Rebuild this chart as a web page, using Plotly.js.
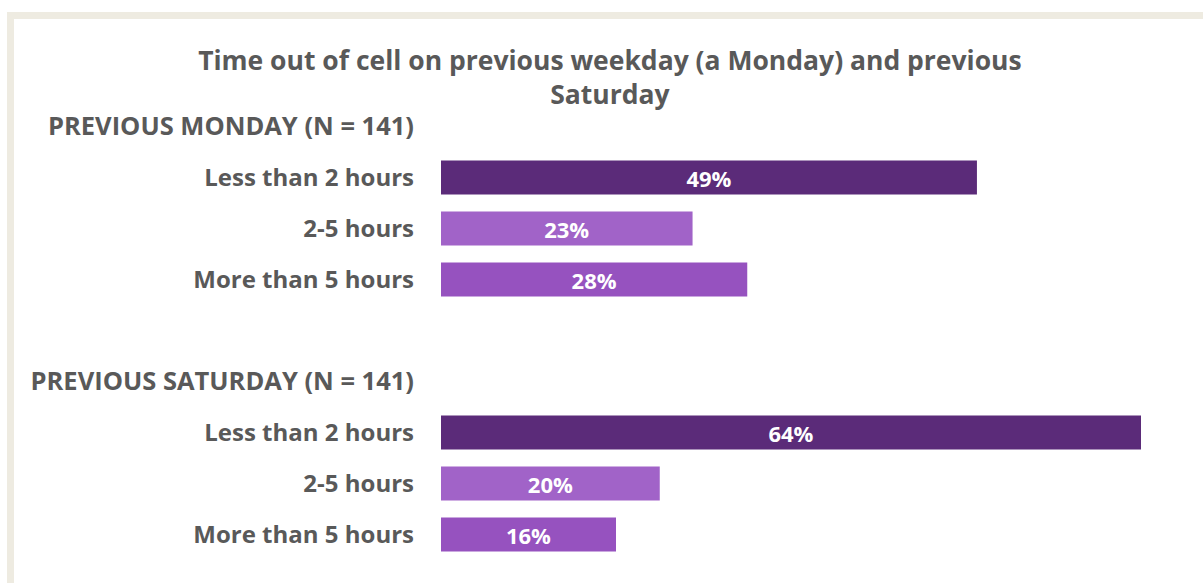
<!DOCTYPE html>
<html>
<head>
<meta charset="utf-8">
<script src="https://cdn.plot.ly/plotly-3.0.1.min.js"></script>
<style>
  html, body { margin: 0; padding: 0; background: #ffffff; }
  #frame { position: absolute; left: 7px; top: 12px; width: 1196px; height: 571px;
           border-top: 7px solid #EEEBE1; border-left: 7px solid #EEEBE1; box-sizing: border-box; }
  #chart { position: absolute; left: 0; top: 0; width: 1203px; height: 583px; }
</style>
</head>
<body>
<div id="frame"></div>
<div id="chart"></div>
<script>
// ---- data ----
const titleText = "Time out of cell on previous weekday (a Monday) and previous<br>Saturday";
const categoryIds = ["hdrMon", "monLt2", "mon25", "monGt5", "gap", "hdrSat", "satLt2", "sat25", "satGt5"];
const categoryLabels = ["PREVIOUS MONDAY (N = 141)", "Less than 2 hours", "2-5 hours", "More than 5 hours", "",
                        "PREVIOUS SATURDAY (N = 141)", "Less than 2 hours", "2-5 hours", "More than 5 hours"];
const headerIds = ["hdrMon", "hdrSat"];
const mondayValues = [49, 23, 28];
const saturdayValues = [64, 20, 16];
const barColors = ["#5B2B79", "#A163C8", "#9652BF"];

// ---- build ----
const xVals = [null, ...mondayValues, null, null, ...saturdayValues];
const colors = ["#fff", ...barColors, "#fff", "#fff", ...barColors];
const texts = xVals.map(v => v === null ? "" : v + "%");
const tickTexts = categoryLabels.map((t, i) =>
  headerIds.includes(categoryIds[i]) ? '<span style="font-size:25.5px">' + t + '</span>' : t);

const trace = {
  type: "bar",
  orientation: "h",
  y: categoryIds,
  x: xVals,
  marker: { color: colors, line: { width: 0 } },
  text: texts,
  textposition: "inside",
  insidetextanchor: "middle",
  constraintext: "none",
  textfont: { family: "Open Sans, sans-serif", size: 22, color: "#ffffff", weight: "bold" },
  hoverinfo: "skip",
  cliponaxis: false
};

const layout = {
  width: 1203, height: 583,
  paper_bgcolor: "rgba(0,0,0,0)",
  plot_bgcolor: "rgba(0,0,0,0)",
  margin: { l: 441, r: 62, t: 100.5, b: 22.5 },
  bargap: 0.333,
  showlegend: false,
  font: { family: "Open Sans, sans-serif", color: "#595959" },
  title: {
    text: titleText,
    x: 0.507, xanchor: "center",
    y: 1 - 70 / 583, yanchor: "top", yref: "container",
    font: { family: "Open Sans, sans-serif", size: 26.5, color: "#595959", weight: "bold" }
  },
  xaxis: { range: [0, 64], visible: false, fixedrange: true },
  yaxis: {
    type: "category",
    categoryorder: "array",
    categoryarray: categoryIds,
    tickvals: categoryIds,
    ticktext: tickTexts,
    range: [8.5, -0.5],
    showgrid: false, zeroline: false, showline: false, ticks: "",
    ticklabelstandoff: 26,
    tickfont: { family: "Open Sans, sans-serif", size: 24, color: "#595959", weight: "bold" },
    fixedrange: true
  }
};

Plotly.newPlot("chart", [trace], layout, { staticPlot: true, displayModeBar: false });
</script>
</body>
</html>
